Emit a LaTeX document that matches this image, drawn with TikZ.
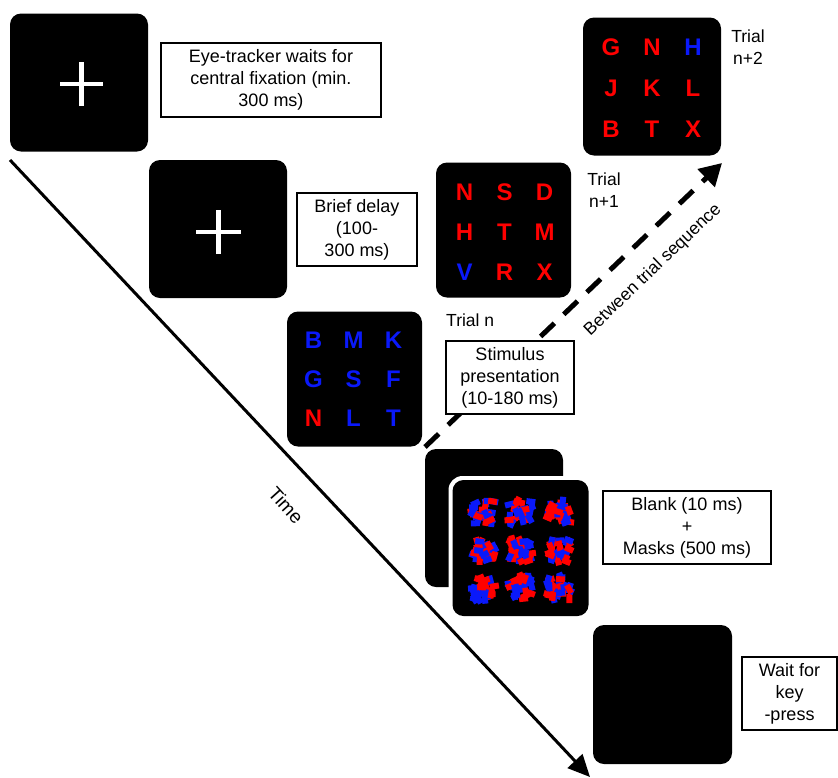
\documentclass[tikz,border=0pt]{standalone}
\usepackage{fontspec}
\setmainfont{Liberation Sans}
\usetikzlibrary{arrows.meta}
\definecolor{mred}{RGB}{255,0,0}
\definecolor{mblue}{RGB}{10,25,250}
\begin{document}
\begin{tikzpicture}[x=1pt,y=-1pt,
  screen/.style={minimum size=#1, inner sep=0pt, outer sep=0pt},
  screen/.default=138pt,
  scrfill/.style={fill=black, rounded corners=11pt},
  infobox/.style={draw=black, line width=1.1pt, fill=white, align=center, inner sep=0pt,
    font=\fontsize{18}{22}\selectfont},
  lbl/.style={align=center, inner sep=0pt, font=\fontsize{17.5}{21.5}\selectfont},
  letr/.style={font=\fontsize{24}{24}\selectfont\bfseries, inner sep=0pt, anchor=center},
  crossline/.style={white, line width=4.5pt},
  timearrow/.style={line width=3pt, -{Triangle[length=22pt,width=20pt]}},
  triarrow/.style={line width=5pt, dash pattern=on 19pt off 13pt, -{Triangle[length=22pt,width=24pt]}}
]
\useasboundingbox (0,0) rectangle (838,777);

% screens (anchors)
\node[screen] (scr1) at (79,82.5) {};
\node[screen] (scr2) at (218,229) {};
\node[screen=135pt] (scrN1) at (503.5,230) {};
\node[screen] (scrN2) at (652,86.5) {};
\node[screen=135pt] (scrN) at (354.5,379) {};
\node[screen] (blank) at (494,518) {};
\node[screen=144pt] (maskrim) at (520.5,548) {};
\node[screen=136pt] (mask) at (520.5,548) {};
\node[screen=139pt] (final) at (662.5,694.5) {};
% screen faces
\foreach \s in {scr1,scr2,scrN1,scrN2,scrN,blank}{
  \fill[scrfill] (\s.south west) rectangle (\s.north east);
}
\fill[white, rounded corners=14pt] (maskrim.south west) rectangle (maskrim.north east);
\fill[scrfill] (mask.south west) rectangle (mask.north east);
\fill[scrfill] (final.south west) rectangle (final.north east);

% fixation crosses
\coordinate (c1) at (81.5,84);
\coordinate (c2) at (218.5,232);
\draw[crossline] ([xshift=-21.5pt]c1) -- ([xshift=21.5pt]c1);
\draw[crossline] ([yshift=-22pt]c1) -- ([yshift=22pt]c1);
\draw[crossline] ([xshift=-22.5pt]c2) -- ([xshift=22.5pt]c2);
\draw[crossline] ([yshift=-22pt]c2) -- ([yshift=22pt]c2);

% letter grids
\foreach \t/\c [count=\i from 0] in {G/mred,N/mred,H/mblue,J/mred,K/mred,L/mred,B/mred,T/mred,X/mred}{
  \pgfmathtruncatemacro\col{mod(\i,3)}
  \pgfmathtruncatemacro\row{\i/3}
  \node[letr, text=\c] (gA\i) at ([shift={({(\col-1)*41},{(\row-1)*41+2})}]scrN2.center) {\t};
}
\foreach \t/\c [count=\i from 0] in {N/mred,S/mred,D/mred,H/mred,T/mred,M/mred,V/mblue,R/mred,X/mred}{
  \pgfmathtruncatemacro\col{mod(\i,3)}
  \pgfmathtruncatemacro\row{\i/3}
  \node[letr, text=\c] (gB\i) at ([shift={({(\col-1)*40+1},{(\row-1)*40+2})}]scrN1.center) {\t};
}
\foreach \t/\c [count=\i from 0] in {B/mblue,M/mblue,K/mblue,G/mblue,S/mblue,F/mblue,N/mred,L/mblue,T/mblue}{
  \pgfmathtruncatemacro\col{mod(\i,3)}
  \pgfmathtruncatemacro\row{\i/3}
  \node[letr, text=\c] (gC\i) at ([shift={({(\col-1)*40-1},{(\row-1)*39})}]scrN.center) {\t};
}

% masks
\pgfmathsetseed{11}
\foreach \px in {-37,0,38}{
  \foreach \py in {-36,2,40}{
    \foreach \k in {1,...,28}{
      \pgfmathsetmacro\X{520.5+\px+rand*11.5}
      \pgfmathsetmacro\Y{548+\py+rand*11.5}
      \pgfmathsetmacro\an{90*round(rnd)+rand*30}
      \pgfmathsetmacro\cc{rnd}
      \ifdim\cc pt>0.5pt \def\mc{mred}\else\def\mc{mblue}\fi
      \fill[\mc, shift={(\X,\Y)}, rotate=\an] (-4.5,-3) rectangle (4.5,3);
    }
  }
}

% between-trial arrow
\coordinate (d0) at (425,447);
\coordinate (d1) at (722,163);
\draw[triarrow] (d0) -- (d1);
\node[lbl, rotate=43.7] (lbts) at (653,270) {Between trial sequence};

% time arrow
\coordinate (t0) at (10,160);
\coordinate (t1) at (590,777);
\draw[timearrow] (t0) -- (t1);
\node[lbl, font=\fontsize{19}{22}\selectfont, rotate=-48] (ltime) at (286,505) {Time};

% text boxes
\node[infobox, minimum width=220pt, minimum height=74pt] (b1) at (271,80) {Eye-tracker waits for\\central fixation (min.\\300 ms)};
\node[infobox, minimum width=120pt, minimum height=73pt] (b2) at (357,229.5) {Brief delay\\(100-\\300 ms)};
\node[infobox, minimum width=128pt, minimum height=73pt] (b3) at (510,377.5) {Stimulus\\presentation\\(10-180 ms)};
\node[infobox, minimum width=168pt, minimum height=73pt] (b4) at (687,527.5) {Blank (10 ms)\\+\\Masks (500 ms)};
\node[infobox, minimum width=95pt, minimum height=73pt] (b5) at (789.5,693.5) {Wait for\\key\\-press};

% trial labels
\node[lbl] (ltn2) at (748,47) {Trial\\n+2};
\node[lbl] (ltn1) at (604,190) {Trial\\n+1};
\node[lbl, anchor=west] (ltn) at (446,320) {Trial n};
\end{tikzpicture}
\end{document}
